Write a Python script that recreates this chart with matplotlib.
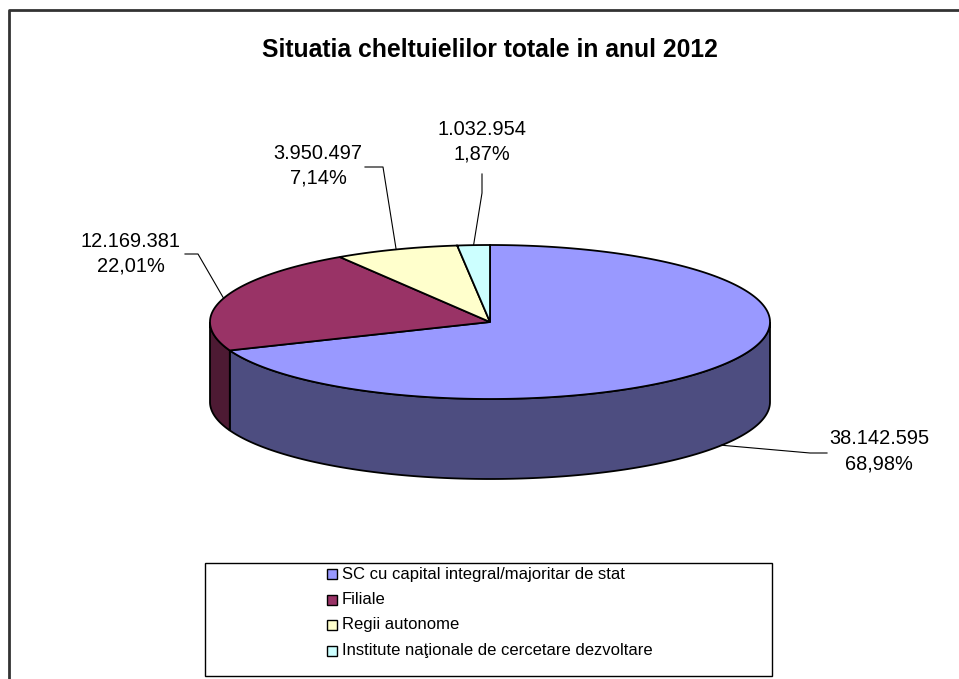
import numpy as np
import matplotlib
matplotlib.use("Agg")
import matplotlib.pyplot as plt
from matplotlib.patches import Polygon, Rectangle
from matplotlib.colors import to_rgb

plt.rcParams["font.family"] = ["Liberation Sans", "DejaVu Sans"]

# ── Data ──────────────────────────────────────────────────────────────────────
title = "Situatia cheltuielilor totale in anul 2012"
categories = [
    "SC cu capital integral/majoritar de stat",
    "Filiale",
    "Regii autonome",
    "Institute naţionale de cercetare dezvoltare",
]
values = [38142595, 12169381, 3950497, 1032954]
colors = ["#9999FF", "#993366", "#FFFFCC", "#CCFFFF"]

# label placement (pixel coords): text centre, elbow of leader, leader end
label_xy = [(879, 451), (131, 254), (318, 166), (482, 142)]
elbow_xy = [(810, 453), (198, 254), (383, 167), (482, 193)]
lead_end = [(827, 453), (185, 254), (365, 167), (482, 174)]

# ── Geometry of the 3D pie (pixels) ──────────────────────────────────────────
CX, CY = 490, 322
RX, RY = 280, 77
DEPTH = 80

W, H = 959, 679
fig = plt.figure(figsize=(W / 100, H / 100), dpi=100)
ax = fig.add_axes([0, 0, 1, 1])
ax.set_xlim(0, W)
ax.set_ylim(H, 0)
ax.axis("off")


def ell(theta, dy=0.0):
    t = np.radians(theta)
    return CX + RX * np.sin(t), CY - RY * np.cos(t) + dy


def fmt_num(v):
    return f"{v:,}".replace(",", ".")


total = float(sum(values))
fracs = [v / total for v in values]
bounds = np.concatenate([[0], np.cumsum(fracs) * 360])

# chart frame (cropped at right / bottom)
ax.plot([9, 9, W], [H, 10, 10], color="#333333", lw=2, solid_capstyle="butt")

ax.text(490, 50, title, ha="center", va="center", fontsize=17.8,
        fontweight="bold")

# side walls (front half only)
for i, col in enumerate(colors):
    a0, a1 = max(bounds[i], 90), min(bounds[i + 1], 270)
    if a0 >= a1:
        continue
    ts = np.linspace(a0, a1, 200)
    tx, ty = ell(ts)
    bx, by = ell(ts[::-1], DEPTH)
    pts = np.column_stack([np.r_[tx, bx], np.r_[ty, by]])
    dark = tuple(c * 0.5 for c in to_rgb(col))
    ax.add_patch(Polygon(pts, closed=True, facecolor=dark,
                         edgecolor="black", lw=1.3, zorder=2))

# top faces
for i, col in enumerate(colors):
    ts = np.linspace(bounds[i], bounds[i + 1], 300)
    tx, ty = ell(ts)
    pts = np.column_stack([np.r_[CX, tx], np.r_[CY, ty]])
    ax.add_patch(Polygon(pts, closed=True, facecolor=col,
                         edgecolor="black", lw=1.3, zorder=3))

# data labels with leader lines
for i, v in enumerate(values):
    mid = (bounds[i] + bounds[i + 1]) / 2
    front = 90 < mid < 270
    sx, sy = ell(mid, DEPTH if front else 0)
    ex, ey = elbow_xy[i]
    lx, ly = lead_end[i]
    ax.plot([sx, ex, lx], [sy, ey, ly], color="black", lw=0.8, zorder=4)
    pct = f"{fracs[i] * 100:.2f}".replace(".", ",") + "%"
    ax.text(label_xy[i][0], label_xy[i][1], f"{fmt_num(v)}\n{pct}",
            ha="center", va="center", fontsize=14.4, linespacing=1.4)

# legend
ax.add_patch(Rectangle((205, 563), 567, 113, facecolor="white",
                       edgecolor="black", lw=1.0, zorder=1))
row_y = [574, 599.5, 625, 650.5]
for y, lab, col in zip(row_y, categories, colors):
    ax.add_patch(Rectangle((327, y - 5), 10, 10, facecolor=col,
                           edgecolor="black", lw=1.0, zorder=2))
    ax.text(342, y, lab, ha="left", va="center", fontsize=12)

fig.savefig("out.png", dpi=100)
